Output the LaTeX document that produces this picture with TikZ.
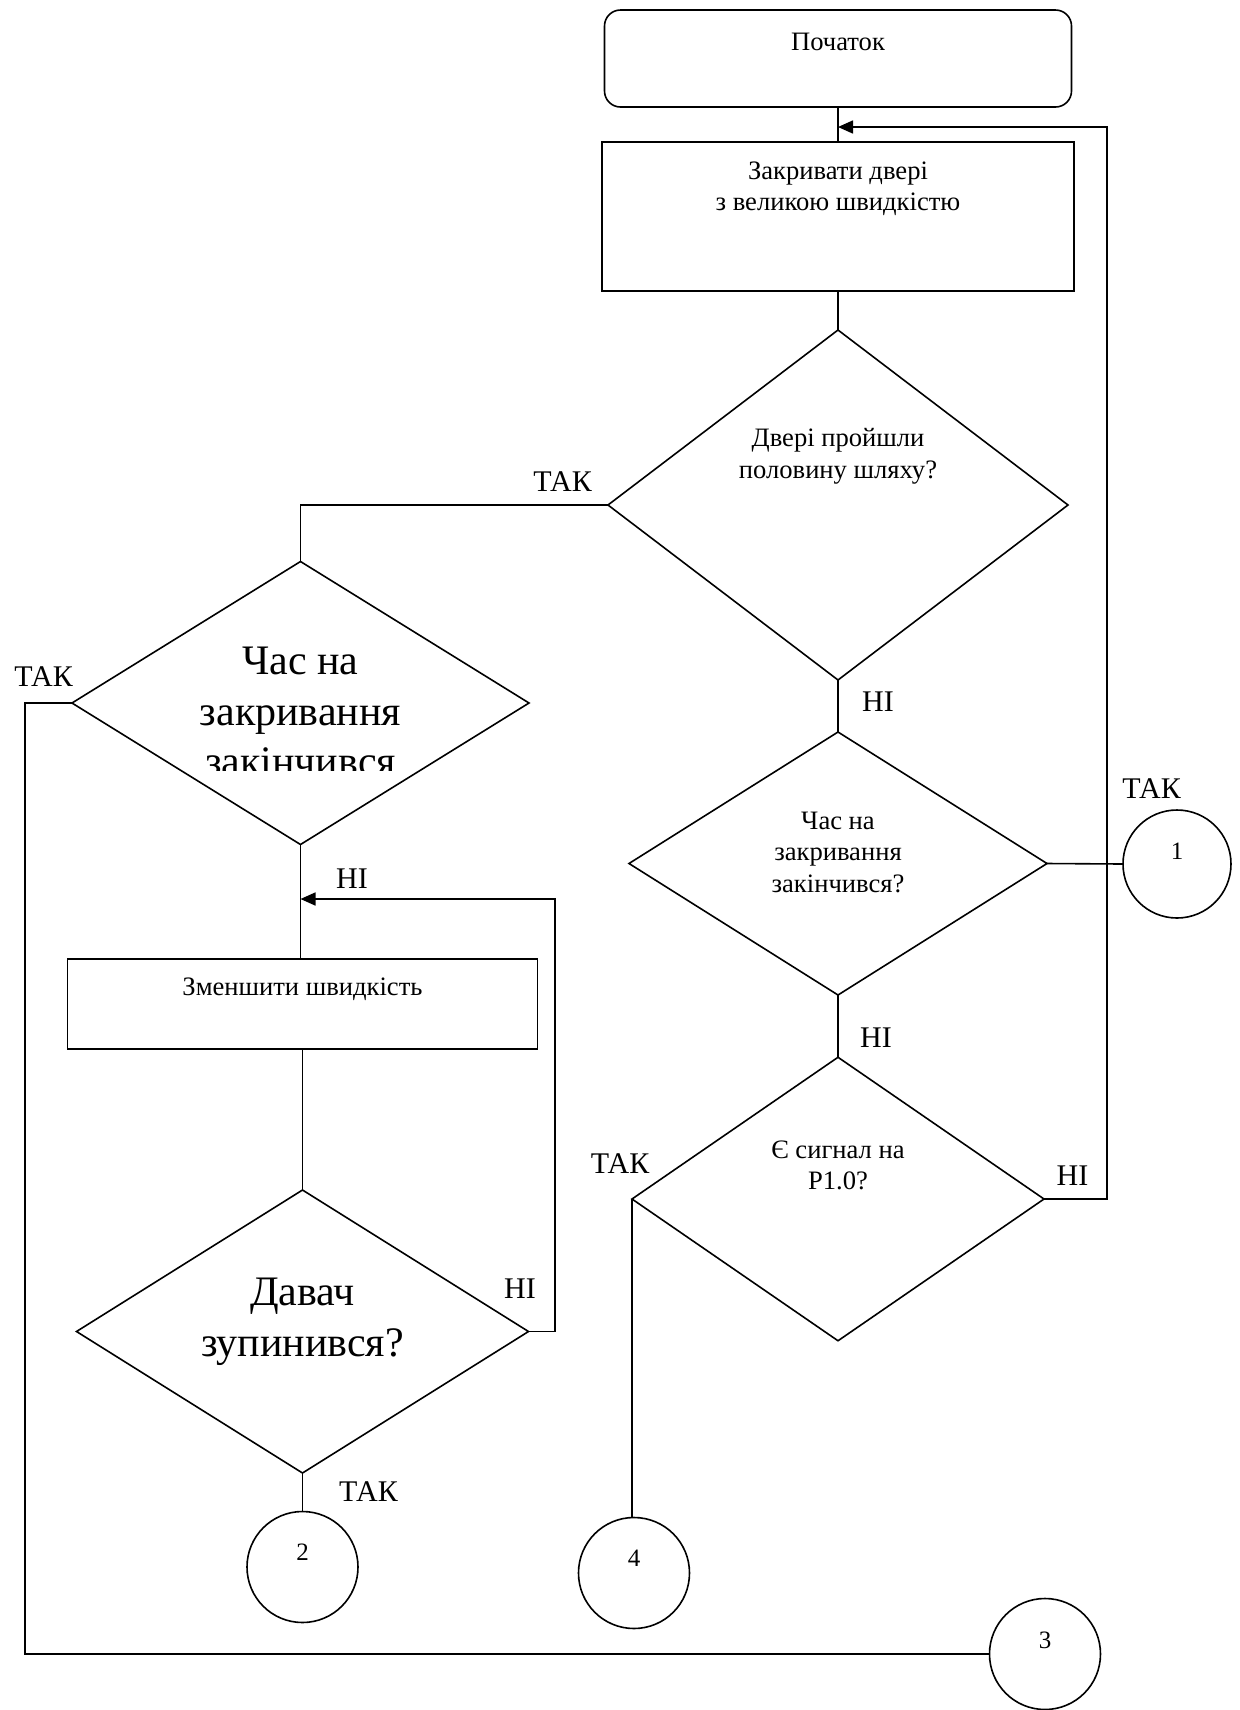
\documentclass[tikz,border=0pt]{standalone}
\usepackage{fontspec}
\setmainfont{Liberation Serif}
\usetikzlibrary{shapes.geometric,arrows.meta}
\begin{document}
\begin{tikzpicture}[x=0.5pt,y=-0.5pt, line width=0.8pt,
  box/.style={draw, rectangle, inner sep=0pt, outer sep=0pt},
  dia/.style={draw, diamond, inner sep=0pt, outer sep=0pt},
  conn/.style={draw, circle, inner sep=0pt, outer sep=0pt, minimum size=55.5pt},
  txt/.style={inner sep=0pt, anchor=base, align=center, font=\fontsize{13.3}{15.75}\selectfont},
  big/.style={inner sep=0pt, anchor=base, align=center, font=\fontsize{21}{25.3}\selectfont},
  lab/.style={inner sep=0pt, anchor=base, font=\fontsize{15}{18}\selectfont},
  num/.style={inner sep=0pt, anchor=base, font=\fontsize{12.5}{15}\selectfont},
  arr/.style={-{Triangle[length=7.5pt,width=6.5pt]}}
]
\useasboundingbox (0,0) rectangle (1239,1710);

% shapes
\node[box, rounded corners=8pt, minimum width=233.5pt, minimum height=48.5pt] (start) at (838,58.5) {};
\node[box, minimum width=236pt, minimum height=74.5pt] (r2) at (838,216.5) {};
\node[dia, minimum width=230pt, minimum height=175pt] (d1) at (838,505) {};
\node[dia, minimum width=228.5pt, minimum height=141.5pt] (d2) at (300.5,703) {};
\node[box, minimum width=235pt, minimum height=45pt] (r3) at (302.5,1004) {};
\node[dia, minimum width=226pt, minimum height=141.5pt] (d3) at (302.5,1331.5) {};
\node[dia, minimum width=209pt, minimum height=131.5pt] (d4) at (838,863.5) {};
\node[dia, minimum width=206pt, minimum height=141.75pt] (d5) at (838,1199) {};
\node[conn, minimum size=54pt] (c1) at (1177,864) {};
\node[conn] (c2) at (302.5,1567) {};
\node[conn] (c4) at (634,1573) {};
\node[conn] (c3) at (1045,1654) {};

% texts (base anchor = baseline of last line)
\node[txt] (tstart) at (838,50) {Початок};
\node[txt] (tr2) at (838,210.7) {Закривати двері\\з великою швидкістю};
\node[txt] (td1) at (838,478) {Двері пройшли\\половину шляху?};
\begin{scope}
  \clip (60,600) rectangle (540,770);
  \node[big] (td2) at (300.5,775.6) {Час на\\закривання\\закінчився};
\end{scope}
\node[txt] (tr3) at (302.5,995) {Зменшити швидкість};
\node[big] (td3) at (302.5,1356) {Давач\\зупинився?};
\node[txt] (td4) at (838,892) {Час на\\закривання\\закінчився?};
\node[txt] (td5) at (838,1189.5) {Є сигнал на\\P1.0?};
\node[num] (n1) at (1177,859.7) {1};
\node[num] (n2) at (302.5,1560) {2};
\node[num] (n4) at (634,1566.7) {4};
\node[num] (n3) at (1045,1648.3) {3};

% labels
\node[lab] (l1) at (562.5,491.7) {ТАК};
\node[lab] (l2) at (878,711.7) {НІ};
\node[lab] (l3) at (43.6,686) {ТАК};
\node[lab] (l4) at (352,888) {НІ};
\node[lab] (l5) at (520,1298) {НІ};
\node[lab] (l6) at (368.5,1501.7) {ТАК};
\node[lab] (l7) at (1151.5,798.5) {ТАК};
\node[lab] (l8) at (876,1047) {НІ};
\node[lab] (l9) at (620,1173.5) {ТАК};
\node[lab] (l10) at (1072.5,1185) {НІ};

% helper coordinates
\coordinate (j1) at (838,127);
\coordinate (rc1) at (1107,127);
\coordinate (j2) at (300.5,899);
\coordinate (rc2) at (555,899);
\coordinate (lc) at (25,703);

% connectors
\draw (start.south) -- (r2.north);
\draw (r2.south) -- (d1.north);
\draw (d1.west) -| (d2.north);
\draw (d1.south) -- (d4.north);
\draw (d4.east) -- (c1.west);
\draw (d4.south) -- (d5.north);
\draw[arr] (d5.east) -| (rc1) -- (j1);
\draw (d5.west) -- (d5.west |- c4.north);
\draw (d2.west) -- (lc) |- (c3.west);
\draw (d2.south) -- (d2.south |- r3.north);
\draw[arr] (d3.east) -| (rc2) -- (j2);
\draw (r3.south) -- (d3.north);
\draw (d3.south) -- (c2.north);
\end{tikzpicture}
\end{document}
